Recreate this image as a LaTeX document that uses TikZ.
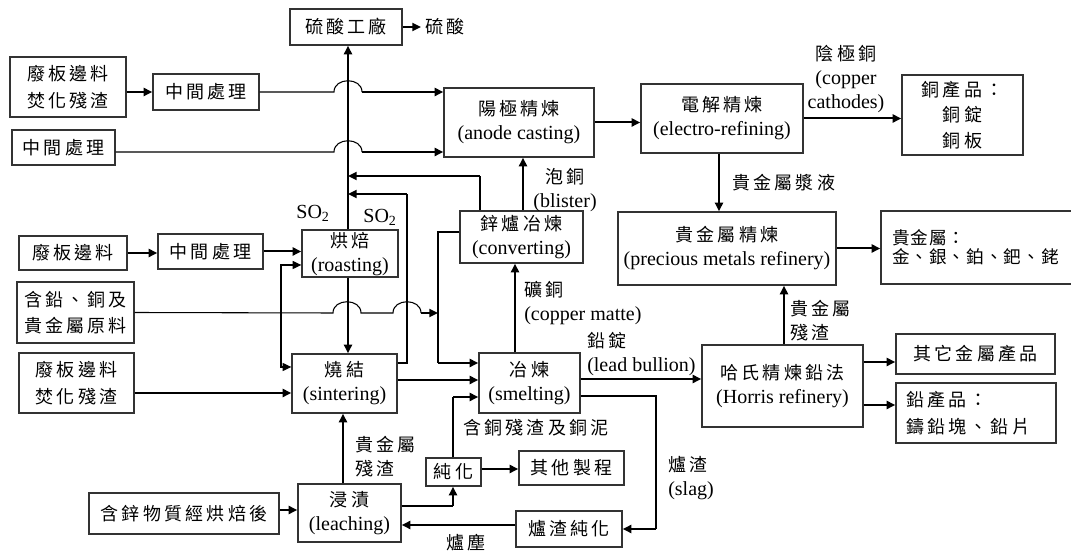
\documentclass[tikz,border=0pt]{standalone}
\usepackage{fontspec}
\setmainfont{Liberation Serif}
\newfontfamily\cjk{Noto Sans CJK TC}[Scale=0.9,LetterSpace=18]
\newfontfamily\cjktight{Noto Sans CJK TC}[Scale=0.88,LetterSpace=6]
\usetikzlibrary{arrows.meta}

\tikzset{
  box/.style={draw=black!80, line width=1pt, inner sep=0pt, align=center,
              font=\fontsize{15pt}{18pt}\selectfont},
  cjbox/.style={box, font=\fontsize{15pt}{20pt}\selectfont\cjk},
  lbl/.style={inner sep=0pt, align=left, font=\fontsize{15pt}{18pt}\selectfont},
  cjlbl/.style={lbl, font=\fontsize{15pt}{18pt}\selectfont\cjk},
  feed/.style={line width=0.8pt},
  flow/.style={line width=1.5pt, -{Triangle[length=6.5pt,width=6pt]}},
  both/.style={line width=0.8pt, {Triangle[length=6.5pt,width=6pt]}-{Triangle[length=6.5pt,width=6pt]}},
}

% \mkbox[options]{name}{x1}{y1}{x2}{y2}{text}: box given by its corners (pixels)
\newcommand\mkbox[7][]{\node[box,minimum width={(#5-#3)*0.75pt},minimum height={(#6-#4)*0.75pt},#1]
  (#2) at ({(#3+#5)/2},{(#4+#6)/2}) {#7};}

\begin{document}
\begin{tikzpicture}[x=0.75pt,y=-0.75pt]
\fill[white] (0,0) rectangle (1071,555);
\useasboundingbox (0,0) rectangle (1071,555);
\clip (0,0) rectangle (1071,555);

% ---------- process boxes ----------
\mkbox[cjbox]{sa}{290}{9}{402}{45}{硫酸工廠}
\mkbox[cjbox]{a1}{10}{57}{126}{117}{廢板邊料\\焚化殘渣}
\mkbox[cjbox]{m1}{153}{74}{259}{110}{中間處理}
\mkbox[cjbox]{m2}{12}{130}{115}{165}{中間處理}
\mkbox{anode}{444}{88}{594}{157}{{\cjk 陽極精煉}\\(anode casting)}
\mkbox{elec}{641}{84}{803}{153}{{\cjk 電解精煉}\\(electro-refining)}
\mkbox[cjbox,font=\fontsize{15pt}{19pt}\selectfont\cjk]{cu}{902}{75}{1023}{155}{銅產品：\\銅錠\\銅板}
\mkbox[cjbox]{a3}{19}{236}{127}{270}{廢板邊料}
\mkbox[cjbox]{m3}{158}{234}{263}{269}{中間處理}
\mkbox[text depth=2pt]{roast}{302}{230}{398}{277}{{\cjk 烘焙}\\(roasting)}
\mkbox{conv}{460}{211}{583}{263}{{\cjk 鋅爐冶煉}\\(converting)}
\mkbox{prec}{618}{212}{836}{285}{{\cjk 貴金屬精煉}\\(precious metals refinery)}
\mkbox[cjbox,align=left,inner xsep=8pt,text width={(198-22)*0.75pt},
       font=\fontsize{15pt}{14pt}\selectfont\cjktight]{pm}{881}{211}{1079}{284}{貴金屬：\\金、銀、鉑、鈀、銠}
\mkbox[cjbox]{a4}{17}{282}{134}{343}{含鉛、銅及\\貴金屬原料}
\mkbox[cjbox]{a5}{19}{353}{134}{413}{廢板邊料\\焚化殘渣}
\mkbox{sinter}{292}{354}{397}{413}{{\cjk 燒結}\\(sintering)}
\mkbox{smelt}{479}{353}{580}{413}{{\cjk 冶煉}\\(smelting)}
\mkbox{horris}{702}{345}{863}{427}{{\cjk 哈氏精煉鉛法}\\(Horris refinery)}
\mkbox[cjbox]{oth}{896}{334}{1055}{374}{其它金屬產品}
\mkbox[cjbox,align=left,inner xsep=7.5pt,text width={(160-20)*0.75pt}]{pb}{896}{383}{1056}{443}{鉛產品：\\鑄鉛塊、鉛片}
\mkbox[cjbox]{pur}{426}{458}{481}{486}{純化}
\mkbox[cjbox]{oth2}{519}{451}{624}{485}{其他製程}
\mkbox{leach}{298}{484}{401}{542}{{\cjk 浸漬}\\(leaching)}
\mkbox[cjbox]{zn}{89}{493}{279}{534}{含鋅物質經烘焙後}
\mkbox[cjbox]{slagp}{516}{511}{622}{547}{爐渣純化}

% ---------- stream labels ----------
\node[cjlbl,anchor=west] (h2so4) at (425,27) {硫酸};
\node[lbl] (so2a) at (313,213) {SO\textsubscript{2}};
\node[lbl] (so2b) at (380,217) {SO\textsubscript{2}};
\node[lbl,align=center] (blister) at (565,190) {{\cjk 泡銅}\\(blister)};
\node[lbl,anchor=west] (matte) at (524,303) {{\cjk 礦銅}\\(copper matte)};
\node[lbl,anchor=west] (lead) at (587,354) {{\cjk 鉛錠}\\(lead bullion)};
\node[cjlbl] (cures) at (536,428) {含銅殘渣及銅泥};
\node[cjlbl,anchor=west] (pmres1) at (355,457) {貴金屬\\殘渣};
\node[cjlbl] (dust) at (466,543) {爐塵};
\node[lbl,anchor=west] (slag) at (668,478) {{\cjk 爐渣}\\(slag)};
\node[cjlbl,anchor=west] (pmres2) at (790,321) {貴金屬\\殘渣};
\node[cjlbl,anchor=west] (slurry) at (732,183) {貴金屬漿液};
\node[lbl,align=center] (cath) at (846,79) {{\cjk 陰極銅}\\(copper\\cathodes)};

% ---------- riser / junction lines ----------
\coordinate (vx) at (348,0);   % off-gas riser to acid plant
\coordinate (lx) at (407,0);   % sinter off-gas
\coordinate (cx) at (480,0);   % converter off-gas
\coordinate (mx) at (438,0);   % feed header to smelting
\coordinate (rx) at (281,0);   % roasting / sintering link
\coordinate (px) at (453,0);   % purification riser
\coordinate (sx) at (656,0);   % slag line

% acid plant
\draw[flow] (roast.north -| vx) -- (sa.south -| vx);
\draw[flow] (sa.east) -- ([xshift=-3pt]h2so4.west);

% copper line
\draw[flow] (a1.east |- m1.west) -- (m1.west);
\draw[feed] (m1.east) -- (334,92) .. controls (334,77) and (362,77) .. (362,92);
\draw[flow] (362,92) -- (anode.west |- m1.east);
\draw[feed] (m2.east |- 0,152) -- (334,152) .. controls (334,137) and (362,137) .. (362,152);
\draw[flow] (362,152) -- (anode.west |- 0,152);
\draw[flow] (anode.east) -- (elec.west |- anode.east);
\draw[flow] (elec.east) -- (cu.west |- elec.east);
\draw[flow] (elec.south -| 719,0) -- (prec.north -| 719,0);
\draw[flow] (prec.east) -- (pm.west |- prec.east);
\draw[flow] (horris.north -| 784,0) -- (prec.south -| 784,0);
\draw[flow] (horris.east |- 0,362) -- (oth.west |- 0,362);
\draw[flow] (horris.east |- 0,405) -- (pb.west |- 0,405);
\draw[flow] (smelt.east |- 0,379) -- (horris.west |- 0,379);
\draw[flow] (smelt.north -| 515,0) -- (conv.south -| 515,0);
\draw[flow] (conv.north -| 523,0) -- (anode.south -| 523,0);

% off-gas returns
\draw[feed] (conv.north -| cx) -- (cx |- 0,176);
\draw[flow] (cx |- 0,176) -- (vx |- 0,176);
\draw[feed] (sinter.east |- 0,363) -- (lx |- 0,363) -- (lx |- 0,194);
\draw[flow] (lx |- 0,194) -- (vx |- 0,194);

% roasting and sintering
\draw[flow] (a3.east) -- (m3.west |- a3.east);
\draw[flow] (m3.east) -- (roast.west |- m3.east);
\draw[flow] (roast.south -| vx) -- (sinter.north -| vx);
\draw[both] (roast.west |- 0,265) -- (rx |- 0,265) -- (rx |- 0,367) -- (sinter.west |- 0,367);
\draw[flow] (a5.east |- 0,393) -- (sinter.west |- 0,393);

% lead / precious-metal feed
\draw[feed] (a4.east) -- (333,313) .. controls (333,298) and (361,298) .. (361,313)
  -- (393,313) .. controls (393,298) and (421,298) .. (421,313);
\draw[flow] (421,313) -- (mx |- 0,313);
\draw[feed] (conv.west |- 0,232) -- (mx |- 0,232) -- (mx |- 0,363);
\draw[flow] (mx |- 0,363) -- (smelt.west |- 0,363);
\draw[flow] (sinter.east |- 0,380) -- (smelt.west |- 0,380);

% leaching circuit
\draw[flow] (leach.north -| 343,0) -- (sinter.south -| 343,0);
\draw[flow] (zn.east |- 0,510) -- (leach.west |- 0,510);
\draw[feed] (leach.east |- 0,506) -- (px |- 0,506);
\draw[flow] (px |- 0,506) -- (pur.south -| px);
\draw[feed] (pur.north -| px) -- (px |- 0,397);
\draw[flow] (px |- 0,397) -- (smelt.west |- 0,397);
\draw[flow] (pur.east |- 0,469) -- (oth2.west |- 0,469);
\draw[feed] (smelt.east |- 0,396) -- (sx |- 0,396) -- (sx |- 0,529);
\draw[flow] (sx |- 0,529) -- (slagp.east |- 0,529);
\draw[flow] (slagp.west |- 0,525) -- (leach.east |- 0,525);
\end{tikzpicture}
\end{document}
